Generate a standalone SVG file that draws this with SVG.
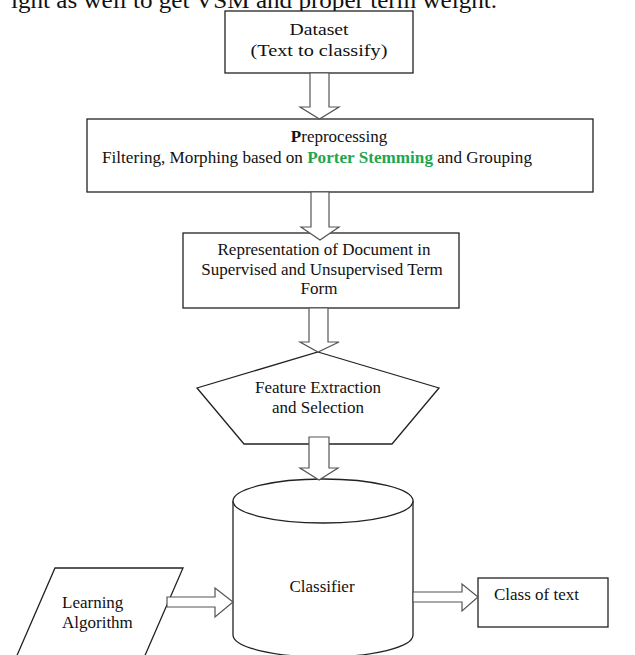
<svg xmlns="http://www.w3.org/2000/svg" width="635" height="655" viewBox="0 0 635 655">
<style>
text{font-family:"Liberation Serif","Times New Roman",serif;font-size:17px;fill:#111}
.c{text-anchor:middle}
.box{fill:#fff;stroke:#222;stroke-width:1.3}
.arr{fill:#fff;stroke:#555;stroke-width:1.2;stroke-linejoin:miter}
.g{fill:#1fa64e;font-weight:bold}
</style>
<rect width="635" height="655" fill="#fff"/>
<text x="11" y="8" style="font-size:24px" textLength="486" lengthAdjust="spacingAndGlyphs">ight as well to get VSM and proper term weight.</text>

<g id="dataset">
<rect class="box" x="225" y="11" width="188" height="62"/>
<text class="c" x="319" y="35" textLength="59" lengthAdjust="spacingAndGlyphs">Dataset</text>
<text class="c" x="319" y="56" textLength="137" lengthAdjust="spacingAndGlyphs">(Text to classify)</text>
</g>

<g id="preprocessing">
<rect class="box" x="87" y="119" width="506" height="73"/>
<text class="c" x="339" y="142"><tspan font-weight="bold">P</tspan>reprocessing</text>
<text x="102" y="163" textLength="430" lengthAdjust="spacingAndGlyphs">Filtering, Morphing based on <tspan class="g">Porter Stemming</tspan> and Grouping</text>
</g>

<g id="representation">
<rect class="box" x="183" y="233" width="276" height="75"/>
<text class="c" x="324" y="255">Representation of Document in</text>
<text class="c" x="322" y="275">Supervised and Unsupervised Term</text>
<text class="c" x="319" y="294">Form</text>
</g>

<g id="feature">
<polygon class="box" points="318,352 439,388 392,444 244,444 197,388"/>
<text class="c" x="318" y="393">Feature Extraction</text>
<text class="c" x="318" y="413">and Selection</text>
</g>

<g id="classifier">
<path class="box" d="M233,501 L233,635 A90,22 0 0 0 413,635 L413,501"/>
<ellipse class="box" cx="323" cy="501" rx="90" ry="22"/>
<text class="c" x="322" y="592">Classifier</text>
</g>

<g id="learning">
<polygon class="box" points="55,568 183,568 143,660 15,660"/>
<text x="62" y="608">Learning</text>
<text x="62" y="628">Algorithm</text>
</g>

<g id="classoftext">
<rect class="box" x="478" y="578" width="130" height="49"/>
<text x="494" y="600">Class of text</text>
</g>

<g id="connectors">
<polygon class="arr" points="310,73 329,73 329,107 339,107 319.5,119 300,107 310,107"/>
<polygon class="arr" points="311,192 329,192 329,227 339,227 320,240 301,227 311,227"/>
<polygon class="arr" points="309,308 328,308 328,342 339,342 318,352 300,342 309,342"/>
<polygon class="arr" points="309,437 329,437 329,468 338,468 319,480 300,468 309,468"/>
<polygon class="arr" points="167,597 215,597 215,588 233,602 215,617 215,607 167,607"/>
<polygon class="arr" points="413,592 462,592 462,584 478,597 462,611 462,602 413,602"/>
</g>
</svg>
